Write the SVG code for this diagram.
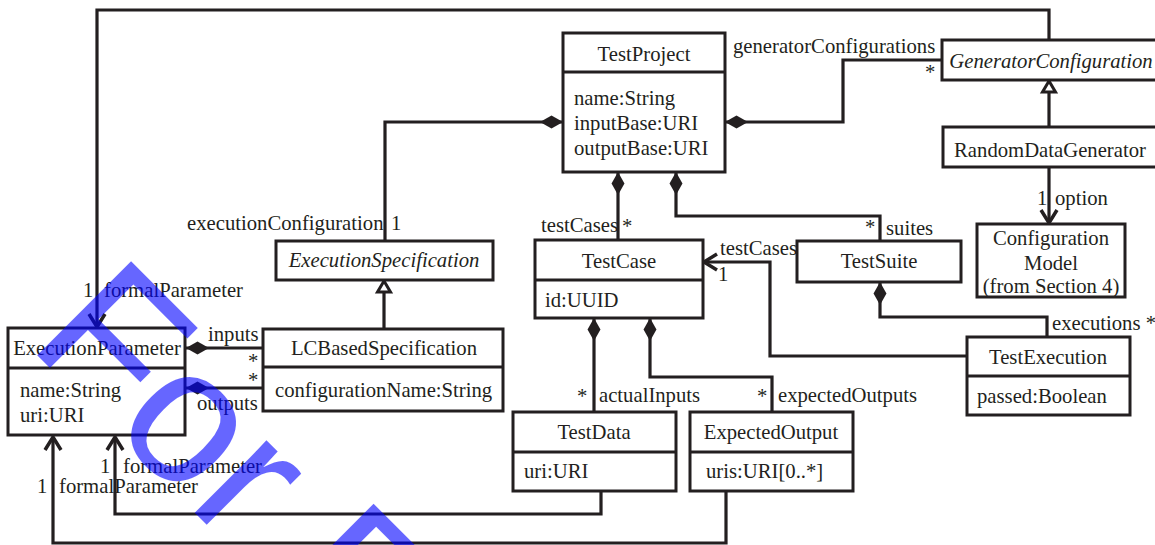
<svg xmlns="http://www.w3.org/2000/svg" width="1155" height="545" viewBox="0 0 1155 545">
<style>
.box{fill:#fff;stroke:#231f20;stroke-width:3}
.ln{fill:none;stroke:#231f20;stroke-width:3.2}
text{font-family:"Liberation Serif","Times New Roman",serif;font-size:20.7px;fill:#231f20}
.c{text-anchor:middle}
.i{font-style:italic}
.wm{font-family:"Liberation Sans",Arial,sans-serif;font-size:193px;fill:#0000ff;fill-opacity:0.6}
</style>
<defs>
<marker id="dia" markerUnits="userSpaceOnUse" orient="auto" refX="0" refY="0" markerWidth="30" markerHeight="20" overflow="visible">
<path d="M0,0 L11.5,-6.5 L23,0 L11.5,6.5 Z" fill="#231f20"/>
</marker>
<marker id="arr" markerUnits="userSpaceOnUse" orient="auto" refX="0" refY="0" markerWidth="20" markerHeight="20" overflow="visible">
<path d="M-13,-8 L0,0 L-13,8" fill="none" stroke="#231f20" stroke-width="3.5"/>
</marker>
<marker id="gen" markerUnits="userSpaceOnUse" orient="auto" refX="0" refY="0" markerWidth="20" markerHeight="20" overflow="visible">
<path d="M0,0 L-11,-6.5 L-11,6.5 Z" fill="#fff" stroke="#231f20" stroke-width="3"/>
</marker>
</defs>

<g id="connectors">
<path class="ln" d="M563,122 L385,122 L385,241" marker-start="url(#dia)"/>
<path class="ln" d="M725,122 L843,122 L843,60 L942,60" marker-start="url(#dia)"/>
<path class="ln" d="M618,172 L618,240" marker-start="url(#dia)"/>
<path class="ln" d="M676,172 L676,216 L880,216 L880,241" marker-start="url(#dia)"/>
<path class="ln" d="M1049,40 L1049,10 L97,10 L97,327" marker-end="url(#arr)"/>
<path class="ln" d="M1049,127 L1049,81" marker-end="url(#gen)"/>
<path class="ln" d="M1049,167 L1049,223" marker-end="url(#arr)"/>
<path class="ln" d="M384,329 L384,281" marker-end="url(#gen)"/>
<path class="ln" d="M186,348 L263,348" marker-start="url(#dia)"/>
<path class="ln" d="M186,388 L263,388" marker-start="url(#dia)"/>
<path class="ln" d="M594,318 L594,412" marker-start="url(#dia)"/>
<path class="ln" d="M650,318 L650,377 L772,377 L772,412" marker-start="url(#dia)"/>
<path class="ln" d="M880,282 L880,317 L1047,317 L1047,337" marker-start="url(#dia)"/>
<path class="ln" d="M967,356 L770,356 L770,262 L704,262" marker-end="url(#arr)"/>
<path class="ln" d="M601,491 L601,514 L115,514 L115,437" marker-end="url(#arr)"/>
<path class="ln" d="M726,491 L726,543 L53,543 L53,437" marker-end="url(#arr)"/>
</g>

<g id="labels">
<text x="733" y="53">generatorConfigurations</text>
<text x="925" y="79">*</text>
<text x="187" y="230">executionConfiguration</text>
<text x="391" y="230">1</text>
<text x="541" y="232">testCases</text>
<text x="622" y="233">*</text>
<text x="865" y="234">*</text>
<text x="886" y="235">suites</text>
<text x="720" y="255">testCases</text>
<text x="718" y="281">1</text>
<text x="1037" y="205">1</text>
<text x="1055" y="205">option</text>
<text x="1052" y="330">executions *</text>
<text x="83" y="297">1</text>
<text x="104" y="297">formalParameter</text>
<text x="208" y="341">inputs</text>
<text x="248" y="368">*</text>
<text x="248" y="387">*</text>
<text x="197" y="410">outputs</text>
<text x="577" y="403">*</text>
<text x="599" y="402">actualInputs</text>
<text x="757" y="403">*</text>
<text x="778" y="402">expectedOutputs</text>
<text x="100" y="473">1</text>
<text x="123" y="473">formalParameter</text>
<text x="37" y="493">1</text>
<text x="59" y="493">formalParameter</text>
</g>

<g id="TestProject">
<rect class="box" x="563" y="33" width="162" height="139"/>
<line class="ln" x1="563" y1="72" x2="725" y2="72"/>
<text class="c" x="644" y="61">TestProject</text>
<text x="574" y="105">name:String</text>
<text x="574" y="130">inputBase:URI</text>
<text x="574" y="155">outputBase:URI</text>
</g>

<g id="GeneratorConfiguration">
<rect class="box" x="942" y="40" width="225" height="40"/>
<text class="c i" x="1051" y="68">GeneratorConfiguration</text>
</g>

<g id="RandomDataGenerator">
<rect class="box" x="943" y="127" width="225" height="40"/>
<text class="c" x="1050" y="157">RandomDataGenerator</text>
</g>

<g id="ConfigurationModel">
<rect class="box" x="977" y="224" width="148" height="73"/>
<text class="c" x="1051" y="245">Configuration</text>
<text class="c" x="1051" y="270">Model</text>
<text class="c" x="1051" y="293">(from Section 4)</text>
</g>

<g id="ExecutionSpecification">
<rect class="box" x="276" y="241" width="217" height="39"/>
<text class="c i" x="384" y="267">ExecutionSpecification</text>
</g>

<g id="TestCase">
<rect class="box" x="535" y="240" width="168" height="78"/>
<line class="ln" x1="535" y1="280" x2="703" y2="280"/>
<text class="c" x="619" y="268">TestCase</text>
<text x="545" y="307">id:UUID</text>
</g>

<g id="TestSuite">
<rect class="box" x="797" y="241" width="164" height="41"/>
<text class="c" x="879" y="268">TestSuite</text>
</g>

<g id="ExecutionParameter">
<rect class="box" x="8" y="328" width="177" height="107"/>
<line class="ln" x1="8" y1="368" x2="185" y2="368"/>
<text class="c" x="97" y="355">ExecutionParameter</text>
<text x="20" y="397">name:String</text>
<text x="20" y="422">uri:URI</text>
</g>

<g id="LCBasedSpecification">
<rect class="box" x="263" y="329" width="240" height="82"/>
<line class="ln" x1="263" y1="367" x2="503" y2="367"/>
<text class="c" x="384" y="355">LCBasedSpecification</text>
<text x="275" y="397">configurationName:String</text>
</g>

<g id="TestExecution">
<rect class="box" x="967" y="337" width="163" height="78"/>
<line class="ln" x1="967" y1="376" x2="1130" y2="376"/>
<text class="c" x="1048" y="364">TestExecution</text>
<text x="977" y="403">passed:Boolean</text>
</g>

<g id="TestData">
<rect class="box" x="513" y="412" width="163" height="79"/>
<line class="ln" x1="513" y1="452" x2="676" y2="452"/>
<text class="c" x="594" y="439">TestData</text>
<text x="524" y="478">uri:URI</text>
</g>

<g id="ExpectedOutput">
<rect class="box" x="690" y="412" width="163" height="79"/>
<line class="ln" x1="690" y1="452" x2="853" y2="452"/>
<text class="c" x="771" y="439">ExpectedOutput</text>
<text x="706" y="478">uris:URI[0..*]</text>
</g>

<text class="wm" transform="translate(26,344) rotate(45)">For P</text>
</svg>
